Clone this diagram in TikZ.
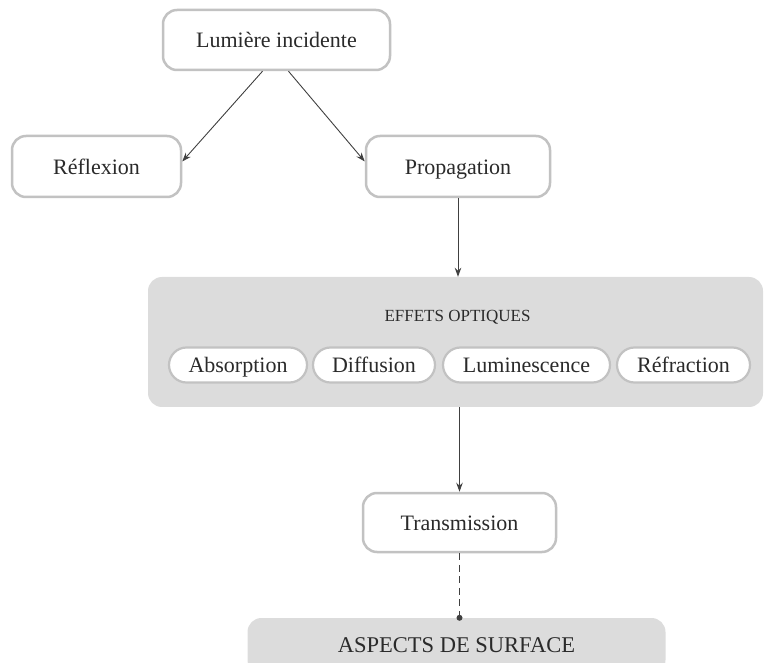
\documentclass[tikz,border=0pt]{standalone}
\usepackage{fontspec}
\setmainfont{Liberation Serif}
\usetikzlibrary{arrows.meta,calc}
\definecolor{boxline}{HTML}{C2C2C2}
\definecolor{panel}{HTML}{DCDCDC}
\definecolor{ink}{HTML}{2A2A2A}
\definecolor{arrowc}{HTML}{404040}
\begin{document}
\begin{tikzpicture}[x=1pt,y=-1pt,
 box/.style={draw=boxline, line width=2.5pt, rounded corners=14pt, fill=white, inner sep=0pt, text height=18pt, text depth=2pt, font=\fontsize{22}{24}\selectfont, text=ink},
 pill/.style={draw=boxline, line width=2.2pt, rounded corners=17.5pt, fill=white, inner sep=0pt, minimum height=35pt, text height=18pt, text depth=2pt, font=\fontsize{22}{24}\selectfont, text=ink},
 panelbox/.style={fill=panel, rounded corners=14pt, inner sep=0pt, text=ink},
 conn/.style={draw=arrowc, line width=0.9pt, -{Stealth[length=9pt,width=6.5pt]}},
]
\useasboundingbox (0,0) rectangle (764,663);
\clip (0,0) rectangle (764,663);
\node[box, minimum width=227pt, minimum height=60pt] (lum) at (276.5,40) {Lumière incidente};
\node[box, minimum width=169pt, minimum height=61pt] (refl) at (96.5,166.5) {Réflexion};
\node[box, minimum width=184pt, minimum height=61pt] (prop) at (458,166.5) {Propagation};
\node[panelbox, minimum width=615pt, minimum height=130pt] (eff) at (455.5,342) {};
\node[font=\fontsize{17}{20}\selectfont, text=ink] (efft) at (457.5,317) {EFFETS OPTIQUES};
\node[pill, minimum width=138pt] (abs) at (238,365) {Absorption};
\node[pill, minimum width=122pt] (dif) at (374,365) {Diffusion};
\node[pill, minimum width=167pt] (lumi) at (526.5,365) {Luminescence};
\node[pill, minimum width=133pt] (refr) at (683.5,365) {Réfraction};
\node[box, minimum width=193pt, minimum height=59pt] (trans) at (459.5,522.5) {Transmission};
\node[panelbox, minimum width=418pt, minimum height=56pt, text height=16pt, text depth=4pt, font=\fontsize{22.5}{24}\selectfont] (asp) at (456.5,646) {ASPECTS DE SURFACE};
\draw[conn] ($(lum.south)+(-14,0)$) -- ($(refl.east)+(0,-5)$);
\draw[conn] ($(lum.south)+(12,0)$) -- ($(prop.west)+(0,-5)$);
\draw[conn] (prop.south) -- (prop.south |- eff.north);
\draw[conn] (eff.south -| trans.north) -- (trans.north);
\coordinate (dotp) at (trans.south |- asp.north);
\draw[arrowc, line width=1.8pt, dash pattern=on 7pt off 4.5pt] (trans.south) -- (dotp);
\fill[arrowc] (dotp) circle (3pt);
\end{tikzpicture}
\end{document}
